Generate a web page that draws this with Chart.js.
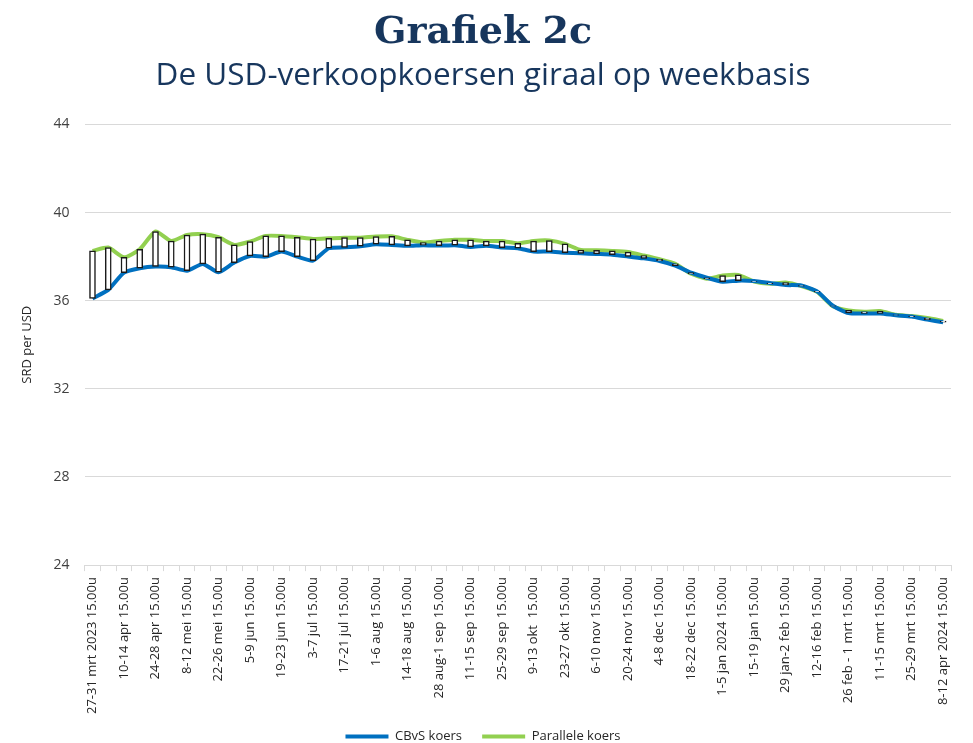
<!DOCTYPE html>
<html>
<head>
<meta charset="utf-8">
<script src="https://cdn.jsdelivr.net/npm/chart.js@4"></script>
<style>
    html, body { margin: 0; padding: 0; background: #ffffff; }
    #wrap { width: 973px; height: 743px; }
</style>
</head>
<body>
<div id="wrap"><canvas id="koersChart"></canvas></div>
<script>
// weekly sell rates, SRD per USD
const weeks = [
    '27-31 mrt 2023 15.00u', '3-7 apr 15.00u', '10-14 apr 15.00u', '17-21 apr 15.00u', '24-28 apr 15.00u',
    '1-5 mei 15.00u', '8-12 mei 15.00u', '15-19 mei 15.00u', '22-26 mei 15.00u', '29 mei-2 jun 15.00u',
    '5-9 jun 15.00u', '12-16 jun 15.00u', '19-23 jun 15.00u', '26-30 jun 15.00u', '3-7 jul 15.00u',
    '10-14 jul 15.00u', '17-21 jul 15.00u', '24-28 jul 15.00u', '1-6 aug 15.00u', '7-11 aug 15.00u',
    '14-18 aug 15.00u', '21-25 aug 15.00u', '28 aug-1 sep 15.00u', '4-8 sep 15.00u', '11-15 sep 15.00u',
    '18-22 sep 15.00u', '25-29 sep 15.00u', '2-6 okt 15.00u', '9-13 okt  15.00u', '16-20 okt 15.00u',
    '23-27 okt 15.00u', '30 okt-3 nov 15.00u', '6-10 nov 15.00u', '13-17 nov 15.00u', '20-24 nov 15.00u',
    '27 nov-1 dec 15.00u', '4-8 dec 15.00u', '11-15 dec 15.00u', '18-22 dec 15.00u', '25-29 dec 15.00u',
    '1-5 jan 2024 15.00u', '8-12 jan 15.00u', '15-19 jan 15.00u', '22-26 jan 15.00u', '29 jan-2 feb 15.00u',
    '5-9 feb 15.00u', '12-16 feb 15.00u', '19-23 feb 15.00u', '26 feb - 1 mrt 15.00u', '4-8 mrt 15.00u',
    '11-15 mrt 15.00u', '18-22 mrt 15.00u', '25-29 mrt 15.00u', '1-5 apr 15.00u', '8-12 apr 2024 15.00u'
];

const cbvsKoers = [
    36.10, 36.49, 37.27, 37.47, 37.55, 37.52, 37.36, 37.67, 37.29, 37.73,
    38.03, 38.00, 38.23, 38.00, 37.82, 38.38, 38.42, 38.47, 38.56, 38.53,
    38.49, 38.52, 38.50, 38.52, 38.44, 38.49, 38.41, 38.38, 38.23, 38.23,
    38.18, 38.15, 38.12, 38.09, 38.01, 37.92, 37.80, 37.59, 37.27, 37.04,
    36.86, 36.91, 36.89, 36.80, 36.71, 36.69, 36.42, 35.77, 35.44, 35.42,
    35.42, 35.34, 35.28, 35.14, 35.02
];

const paralleleKoers = [
    38.26, 38.41, 37.97, 38.33, 39.14, 38.71, 38.98, 39.02, 38.88, 38.53,
    38.68, 38.94, 38.94, 38.88, 38.80, 38.83, 38.86, 38.86, 38.91, 38.92,
    38.76, 38.64, 38.71, 38.76, 38.76, 38.71, 38.71, 38.60, 38.71, 38.73,
    38.58, 38.30, 38.29, 38.26, 38.21, 38.05, 37.88, 37.67, 37.22, 37.00,
    37.14, 37.17, 36.87, 36.77, 36.82, 36.66, 36.40, 35.75, 35.56, 35.50,
    35.53, 35.36, 35.30, 35.21, 35.08
];

const yTicks = [24, 28, 32, 36, 40, 44];

const navy = '#17365d';

// up/down bars between the two rates
const spread = cbvsKoers.map((v, i) => [v, paralleleKoers[i]]);

new Chart(document.getElementById('koersChart'), {
    data: {
        labels: weeks,
        datasets: [
            {
                type: 'line',
                label: 'CBvS koers',
                data: cbvsKoers,
                borderColor: '#0070c0',
                backgroundColor: '#0070c0',
                borderWidth: 4,
                pointRadius: 0,
                tension: 0.2,
                order: 1
            },
            {
                type: 'line',
                label: 'Parallele koers',
                data: paralleleKoers,
                borderColor: '#92d050',
                backgroundColor: '#92d050',
                borderWidth: 4,
                pointRadius: 0,
                tension: 0.2,
                order: 2
            },
            {
                type: 'bar',
                label: 'spread',
                data: spread,
                backgroundColor: '#ffffff',
                borderColor: '#1a1a1a',
                borderWidth: 1.5,
                borderSkipped: false,
                barThickness: 6,
                order: 0
            }
        ]
    },
    options: {
        responsive: true,
        maintainAspectRatio: false,
        animation: false,
        layout: {
            padding: { left: 15, right: 22, top: 0, bottom: -10 }
        },
        plugins: {
            title: {
                display: true,
                text: 'Grafiek 2c',
                color: navy,
                font: { family: 'DejaVu Serif', size: 38, weight: 'bold' },
                padding: { top: 10, bottom: 2 }
            },
            subtitle: {
                display: true,
                text: 'De USD-verkoopkoersen giraal op weekbasis',
                color: navy,
                font: { family: 'Open Sans', size: 31.5 },
                padding: { top: 0, bottom: 29 }
            },
            legend: {
                position: 'bottom',
                labels: {
                    boxWidth: 43,
                    boxHeight: 4,
                    padding: 10,
                    color: '#262626',
                    font: { family: 'Open Sans', size: 13 },
                    generateLabels: (chart) => Chart.defaults.plugins.legend.labels.generateLabels(chart)
                        .filter(item => item.datasetIndex < 2)
                        .map(item => Object.assign(item, {
                            text: item.datasetIndex === 0 ? item.text + '   ' : item.text,
                            lineWidth: 0,
                            fillStyle: item.strokeStyle
                        }))
                }
            },
            tooltip: { enabled: false }
        },
        scales: {
            x: {
                offset: true,
                grid: {
                    offset: true,
                    drawOnChartArea: false,
                    tickLength: 6,
                    color: '#d9d9d9'
                },
                border: { color: '#d9d9d9' },
                ticks: {
                    autoSkip: false,
                    maxRotation: 90,
                    minRotation: 90,
                    padding: 6,
                    color: '#262626',
                    font: { family: 'Open Sans', size: 13 },
                    callback: function (value, index) {
                        return index % 2 === 0 ? this.getLabelForValue(value) : '';
                    }
                }
            },
            y: {
                min: 24,
                max: 44,
                afterBuildTicks: (axis) => {
                    axis.ticks = yTicks.map(v => ({ value: v }));
                },
                grid: {
                    color: '#d9d9d9',
                    drawTicks: false
                },
                border: { display: false },
                ticks: {
                    padding: 15,
                    color: '#404040',
                    font: { family: 'Open Sans', size: 14 }
                },
                title: {
                    display: true,
                    text: 'SRD per USD',
                    color: '#262626',
                    font: { family: 'Open Sans', size: 13 },
                    padding: { top: 4, bottom: 4 }
                }
            }
        }
    }
});
</script>
</body>
</html>
